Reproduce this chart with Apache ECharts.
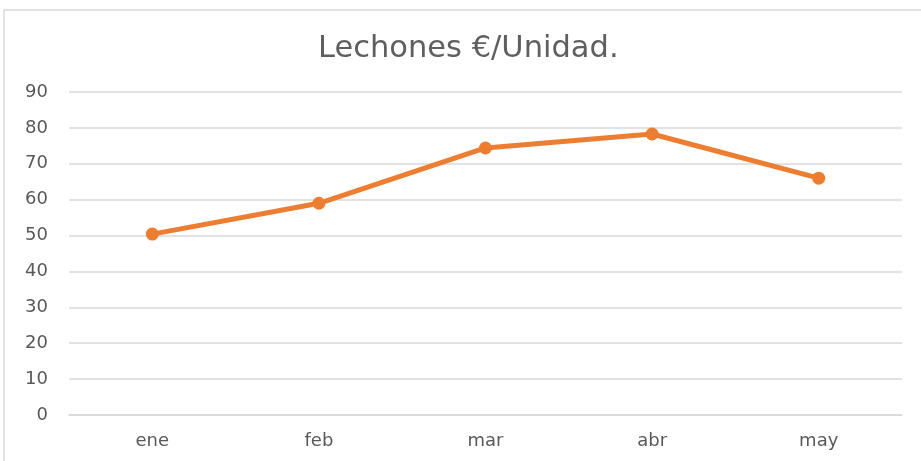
<!DOCTYPE html>
<html>
<head>
<meta charset="utf-8">
<script src="https://cdn.jsdelivr.net/npm/echarts@6/dist/echarts.min.js"></script>
<style>
  html, body { margin: 0; padding: 0; background: #fff; }
  #chart { width: 921px; height: 461px; }
</style>
</head>
<body>
<div id="chart"></div>
<script>
var meses = ['ene', 'feb', 'mar', 'abr', 'may'];
var precios = [50.4, 59.0, 74.4, 78.3, 66.0];
var titulo = 'Lechones €/Unidad.';

var myChart = echarts.init(document.getElementById('chart'));
var option = {
    backgroundColor: '#fff',
    animation: false,
    title: {
        text: titulo,
        left: 313,
        top: 29,
        textStyle: {
            color: '#5f5f5f',
            fontSize: 30.5,
            fontWeight: 'normal',
            fontFamily: 'DejaVu Sans'
        }
    },
    graphic: [{
        type: 'rect',
        shape: { x: 4, y: 10, width: 940, height: 470 },
        style: { fill: 'none', stroke: '#d9d9d9', lineWidth: 1.5 }
    }],
    grid: { left: 69, right: 19, top: 92, bottom: 46 },
    xAxis: {
        type: 'category',
        data: meses,
        axisLine: { lineStyle: { color: '#d9d9d9', width: 1.5 } },
        axisTick: { show: false },
        axisLabel: { color: '#595959', fontSize: 18, margin: 17, fontFamily: 'DejaVu Sans' }
    },
    yAxis: {
        type: 'value',
        min: 0,
        max: 90,
        interval: 10,
        axisLine: { show: false },
        axisTick: { show: false },
        splitLine: { lineStyle: { color: '#d9d9d9', width: 1.5 } },
        axisLabel: { color: '#595959', fontSize: 18, margin: 21, fontFamily: 'DejaVu Sans' }
    },
    series: [{
        type: 'line',
        data: precios,
        symbol: 'circle',
        symbolSize: 13,
        lineStyle: { color: '#ed7d31', width: 5 },
        itemStyle: { color: '#ed7d31' }
    }]
};
myChart.setOption(option);
window.addEventListener('resize', function () {
    myChart.resize();
});
</script>
</body>
</html>
